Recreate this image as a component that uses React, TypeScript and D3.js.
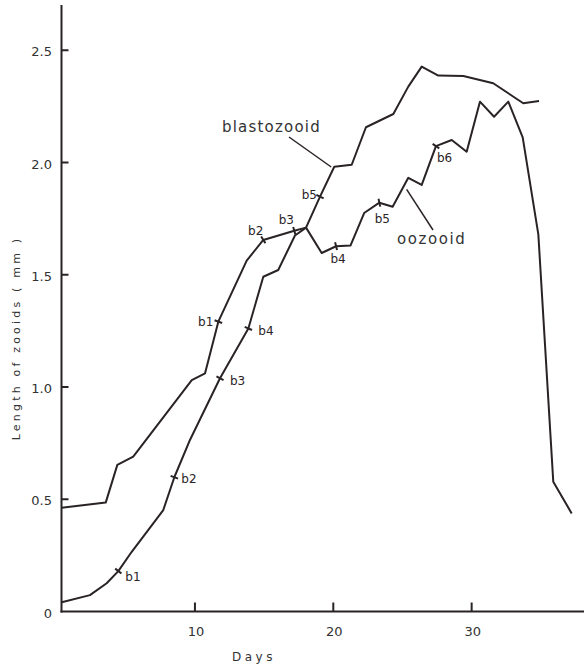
import React from "react";
import * as d3 from "d3";

// ---- data ----
const blastoDays = [0.37, 2.41, 3.62, 4.46, 5.43, 7.71, 8.51, 9.64, 11.81, 13.86, 14.94, 16.02, 17.23, 18.03, 19.04, 20.07, 21.33, 22.36, 24.34, 25.42, 26.39, 27.59, 29.4, 31.56, 33.73, 34.87];
const blastoLen = [0.041, 0.073, 0.126, 0.18, 0.266, 0.452, 0.598, 0.764, 1.039, 1.261, 1.491, 1.521, 1.675, 1.71, 1.848, 1.981, 1.99, 2.157, 2.216, 2.338, 2.427, 2.387, 2.385, 2.353, 2.264, 2.274];

const oozDays = [0.37, 3.55, 4.39, 5.54, 9.77, 10.73, 11.69, 13.74, 14.94, 17.18, 18.03, 19.16, 20.2, 21.24, 22.23, 23.33, 24.29, 25.42, 26.39, 27.42, 28.56, 29.64, 30.6, 31.62, 32.65, 33.69, 34.82, 35.9, 37.23];
const oozLen = [0.462, 0.485, 0.653, 0.69, 1.031, 1.061, 1.291, 1.563, 1.655, 1.696, 1.71, 1.597, 1.627, 1.63, 1.775, 1.821, 1.803, 1.932, 1.9, 2.073, 2.1, 2.048, 2.271, 2.204, 2.271, 2.112, 1.68, 0.578, 0.437];

// bud-release markers: label and index of the point on the curve
const blastoMarkLabels = ["b1", "b2", "b3", "b4", "b5"];
const blastoMarkIdx = [3, 6, 8, 9, 14];
const oozMarkLabels = ["b1", "b2", "b3", "b4", "b5", "b6"];
const oozMarkIdx = [6, 8, 9, 12, 15, 19];

const xTicks = [10, 20, 30];
const yTicks = [0, 0.5, 1.0, 1.5, 2.0, 2.5];
const yTickLabels = ["0", "0.5", "1.0", "1.5", "2.0", "2.5"];

// ---- layout (label offsets relative to marker, px) ----
const blastoLabelOff: [number, number, string][] = [
  [7, 10, "start"], [7, 6, "start"], [10, 7, "start"], [10, 7, "start"], [-3, 2, "end"],
];
const oozLabelOff: [number, number, string][] = [
  [-5, 4, "end"], [0, -5, "end"], [-8, -7, "middle"], [2, 17, "middle"], [3, 20, "middle"], [1, 16, "start"],
];

const W = 584, H = 664;
const INK = "#2a2326";
const FONT = "'DejaVu Sans', sans-serif";

export default function App() {
  const x = d3.scaleLinear().domain([0, 38]).range([56.6, 56.6 + 38 * 13.835]);
  const y = d3.scaleLinear().domain([0, 2.5]).range([611.5, 50.25]);
  const axisX = 61.5;
  const axisY = y(0);

  const line = d3.line<[number, number]>().x(d => x(d[0])).y(d => y(d[1]));
  const blasto = blastoDays.map((d, i) => [d, blastoLen[i]] as [number, number]);
  const ooz = oozDays.map((d, i) => [d, oozLen[i]] as [number, number]);

  const marker = (pts: [number, number][], idx: number) => {
    const p = pts[idx];
    const a = pts[Math.max(0, idx - 1)];
    const b = pts[Math.min(pts.length - 1, idx + 1)];
    const dx = x(b[0]) - x(a[0]);
    const dy = y(b[1]) - y(a[1]);
    const len = Math.hypot(dx, dy) || 1;
    const nx = -dy / len, ny = dx / len;
    const cx = x(p[0]), cy = y(p[1]);
    const h = 4;
    return { cx, cy, x1: cx - nx * h, y1: cy - ny * h, x2: cx + nx * h, y2: cy + ny * h };
  };

  const renderMarks = (pts: [number, number][], idxs: number[], labels: string[], offs: [number, number, string][], key: string) =>
    idxs.map((idx, i) => {
      const m = marker(pts, idx);
      const [ox, oy, anchor] = offs[i];
      return (
        <g key={key + i}>
          <line x1={m.x1} y1={m.y1} x2={m.x2} y2={m.y2} stroke={INK} strokeWidth={2} />
          <text x={m.cx + ox} y={m.cy + oy} textAnchor={anchor as any} fontSize={12} fill={INK} fontFamily={FONT}>
            {labels[i]}
          </text>
        </g>
      );
    });

  // annotation anchor points on curves
  const blastoLeadEnd = [x(19.85), y(1.98)];
  const oozLeadStart = [x(25.3), y(1.88)];

  return (
    <svg width={W} height={H} style={{ position: "absolute", left: 0, top: 0, background: "#fff" }}>
      {/* axes */}
      <line x1={axisX} y1={5} x2={axisX} y2={axisY + 1} stroke={INK} strokeWidth={2} />
      <line x1={axisX - 1} y1={axisY} x2={W} y2={axisY} stroke={INK} strokeWidth={2} />
      {yTicks.filter(t => t > 0).map(t => (
        <line key={"yt" + t} x1={axisX} x2={axisX + 7} y1={y(t)} y2={y(t)} stroke={INK} strokeWidth={2} />
      ))}
      {yTicks.map((t, i) => (
        <text key={"yl" + t} x={52} y={y(t) + 6} textAnchor="end" fontSize={13} fill="#333" fontFamily={FONT}>
          {yTickLabels[i]}
        </text>
      ))}
      {xTicks.map(t => (
        <g key={"xt" + t}>
          <line x1={x(t)} x2={x(t)} y1={axisY} y2={axisY - 9} stroke={INK} strokeWidth={2} />
          <text x={x(t) + 1} y={636} textAnchor="middle" fontSize={13} fill="#333" fontFamily={FONT}>
            {t}
          </text>
        </g>
      ))}
      <text x={254} y={661} textAnchor="middle" fontSize={12} fill="#333" fontFamily={FONT} letterSpacing={3.5}>
        Days
      </text>
      <text transform="translate(20,338) rotate(-90)" textAnchor="middle" fontSize={11} fill="#333" fontFamily={FONT} letterSpacing={3.2}>
        Length of zooids ( mm )
      </text>

      {/* curves */}
      <path d={line(blasto) || ""} fill="none" stroke={INK} strokeWidth={2} strokeLinejoin="round" />
      <path d={line(ooz) || ""} fill="none" stroke={INK} strokeWidth={2} strokeLinejoin="round" />

      {renderMarks(blasto, blastoMarkIdx, blastoMarkLabels, blastoLabelOff, "bm")}
      {renderMarks(ooz, oozMarkIdx, oozMarkLabels, oozLabelOff, "om")}

      {/* annotations */}
      <line x1={289} y1={137} x2={blastoLeadEnd[0]} y2={blastoLeadEnd[1]} stroke={INK} strokeWidth={1.5} />
      <text x={222} y={132} fontSize={15} fill="#333" fontFamily={FONT} letterSpacing={1.2}>
        blastozooid
      </text>
      <line x1={oozLeadStart[0]} y1={oozLeadStart[1]} x2={433} y2={230} stroke={INK} strokeWidth={1.5} />
      <text x={397} y={244} fontSize={15} fill="#333" fontFamily={FONT} letterSpacing={1.6}>
        oozooid
      </text>
    </svg>
  );
}
